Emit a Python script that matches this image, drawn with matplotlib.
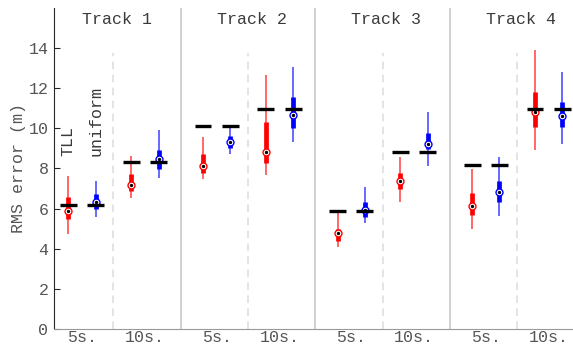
import numpy as np
import matplotlib.pyplot as plt

plt.rcParams['font.family'] = ['Liberation Mono', 'DejaVu Sans Mono']

tracks = ['Track 1', 'Track 2', 'Track 3', 'Track 4']
durations = ['5s.', '10s.']
methods = ['TLL', 'uniform']
colors = ['#ff0000', '#0000ff']

# stats per track -> duration -> method: [whisker low, q1, median, q3, whisker high]
stats = [
    [[[4.72, 5.48, 5.90, 6.56, 7.60], [5.60, 6.00, 6.31, 6.73, 7.37]],
     [[6.54, 6.89, 7.17, 7.72, 8.62], [7.51, 7.96, 8.45, 8.92, 9.91]]],
    [[[7.46, 7.79, 8.12, 8.72, 9.55], [8.72, 9.03, 9.33, 9.63, 10.08]],
     [[7.69, 8.26, 8.80, 10.34, 12.64], [9.33, 10.03, 10.68, 11.54, 13.07]]],
    [[[4.10, 4.40, 4.77, 4.96, 5.76], [5.27, 5.60, 5.91, 6.34, 7.06]],
     [[6.34, 6.99, 7.37, 7.79, 8.59], [8.12, 8.95, 9.23, 9.78, 10.80]]],
    [[[4.98, 5.68, 6.14, 6.76, 7.97], [5.65, 6.34, 6.81, 7.39, 8.59]],
     [[8.92, 10.08, 10.83, 11.82, 13.90], [9.22, 10.05, 10.61, 11.31, 12.80]]],
]
# black reference level per track and duration
ref_level = [[6.18, 8.34], [10.13, 10.94], [5.86, 8.84], [8.17, 10.94]]

track_step = 2.14
offset = 0.217

fig = plt.figure(figsize=(5.73, 3.49), dpi=100)
ax = fig.add_axes([0.0942, 0.0573, 0.9058, 0.92])

tick_pos = []
tick_lab = []
for t in range(len(tracks)):
    base = t * track_step
    for d in range(len(durations)):
        c = base + d
        tick_pos.append(c)
        tick_lab.append(durations[d])
        for m in range(len(methods)):
            x = c + (2 * m - 1) * offset
            lo, q1, med, q3, hi = stats[t][d][m]
            ax.vlines(x, lo, hi, color=colors[m], lw=1.1, alpha=0.75, zorder=3)
            ax.vlines(x, q1, q3, color=colors[m], lw=3.4, zorder=4)
            ax.plot(x, med, 'o', ms=5, mfc='white', mec=colors[m], mew=1.0, zorder=5)
            ax.plot(x, med, 'o', ms=1.4, color='black', zorder=6)
            ax.hlines(ref_level[t][d], x - 0.133, x + 0.133, color='black', lw=2.4, zorder=7)
    # dashed separator between durations
    ax.vlines(base + 0.5, 0, 13.75, color='#dcdcdc', lw=1.1, linestyles=(0, (5, 3.5)), zorder=1)
    if t < len(tracks) - 1:
        ax.axvline(base + 1.57, color='#c4c4c4', lw=1.1, zorder=1)
    ax.text(base + 0.56, 15.4, tracks[t], ha='center', va='center', fontsize=12, color='#3a3a3a')

for m in range(len(methods)):
    ax.text((2 * m - 1) * offset, 8.62, methods[m], rotation=90, ha='center', va='bottom',
            fontsize=12, color='#3a3a3a')

ax.set_xlim(-0.445, 7.806)
ax.set_ylim(0, 16)
ax.set_yticks(np.arange(0, 15, 2))
ax.set_xticks(tick_pos)
ax.set_xticklabels(tick_lab)
ax.tick_params(axis='y', direction='in', length=4, width=0.8, colors='#262626', labelcolor='#555555',
               labelsize=12, pad=4)
ax.tick_params(axis='x', length=0, labelcolor='#555555', labelsize=12, pad=1)
ax.set_ylabel('RMS error (m)', fontsize=12, color='#555555', labelpad=2)
ax.spines['top'].set_visible(False)
ax.spines['right'].set_visible(False)
ax.spines['left'].set_color('#262626')
ax.spines['bottom'].set_color('#999999')

fig.savefig('out.png', dpi=100)
